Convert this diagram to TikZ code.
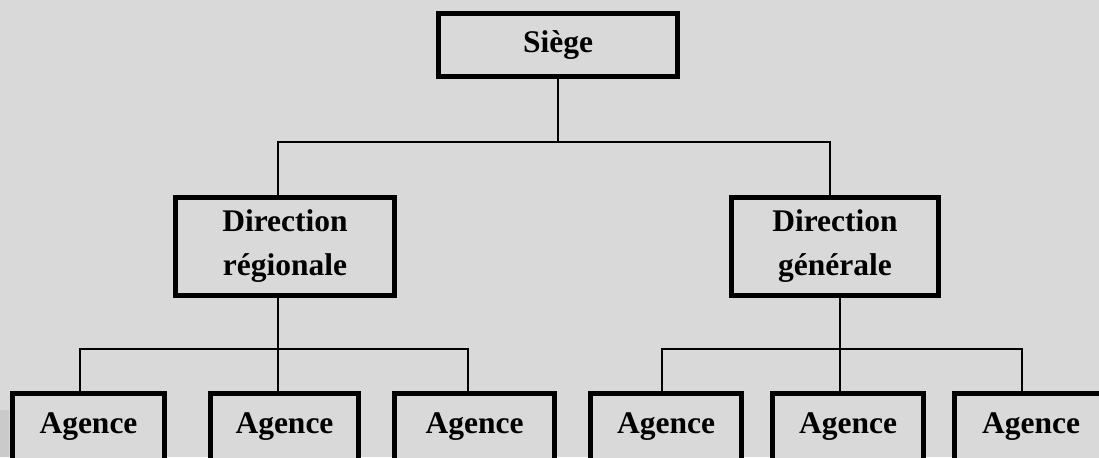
\documentclass[tikz,border=0pt]{standalone}
\usepackage{fontspec}
\setmainfont{Liberation Serif}
\definecolor{fond}{RGB}{217,217,217}
\definecolor{bande}{RGB}{202,202,202}

\begin{document}
\begin{tikzpicture}[x=0.5pt,y=-0.5pt,
  box/.style={draw=black, line width=2.5pt, fill=fond, inner sep=0pt, align=center,
    font=\bfseries\fontsize{15.75}{22}\selectfont},
  link/.style={draw=black, line width=1pt}]

\useasboundingbox (0,0) rectangle (1099,457);
\clip (0,0) rectangle (1099,457);
\fill[fond] (0,0) rectangle (1099,457);
\fill[bande] (0,410) rectangle (9,457);

\node[box, minimum width=239*0.5pt, minimum height=63*0.5pt] (siege) at (558,45) {Siège};

\node[box, minimum width=219*0.5pt, minimum height=98*0.5pt] (dr) at (285,246.5) {Direction\\régionale};
\node[box, minimum width=207*0.5pt, minimum height=98*0.5pt] (dg) at (835,246.5) {Direction\\générale};

\node[box, minimum width=152*0.5pt, minimum height=67*0.5pt] (a1) at (88.5,427) {Agence};
\node[box, minimum width=148*0.5pt, minimum height=67*0.5pt] (a2) at (284.5,427) {Agence};
\node[box, minimum width=160*0.5pt, minimum height=67*0.5pt] (a3) at (474.5,427) {Agence};
\node[box, minimum width=151*0.5pt, minimum height=67*0.5pt] (a4) at (666,427) {Agence};
\node[box, minimum width=151*0.5pt, minimum height=67*0.5pt] (a5) at (848,427) {Agence};
\node[box, minimum width=153*0.5pt, minimum height=67*0.5pt] (a6) at (1031,427) {Agence};

\coordinate (t1) at (278,142);
\coordinate (t2) at (830,142);

\coordinate (u1) at (80,349);
\coordinate (u2) at (278,349);
\coordinate (u3) at (468,349);

\coordinate (v1) at (662,349);
\coordinate (v2) at (840,349);
\coordinate (v3) at (1022,349);

\draw[link] (siege.south) -- (siege.south |- t1);
\draw[link] (dr.north -| t1) -- (t1) -- (t2) -- (dg.north -| t2);

\draw[link] (dr.south -| u2) -- (u2) -- (a2.north -| u2);
\draw[link] (a1.north -| u1) -- (u1) -- (u3) -- (a3.north -| u3);

\draw[link] (dg.south -| v2) -- (v2) -- (a5.north -| v2);
\draw[link] (a4.north -| v1) -- (v1) -- (v3) -- (a6.north -| v3);

\end{tikzpicture}
\end{document}
